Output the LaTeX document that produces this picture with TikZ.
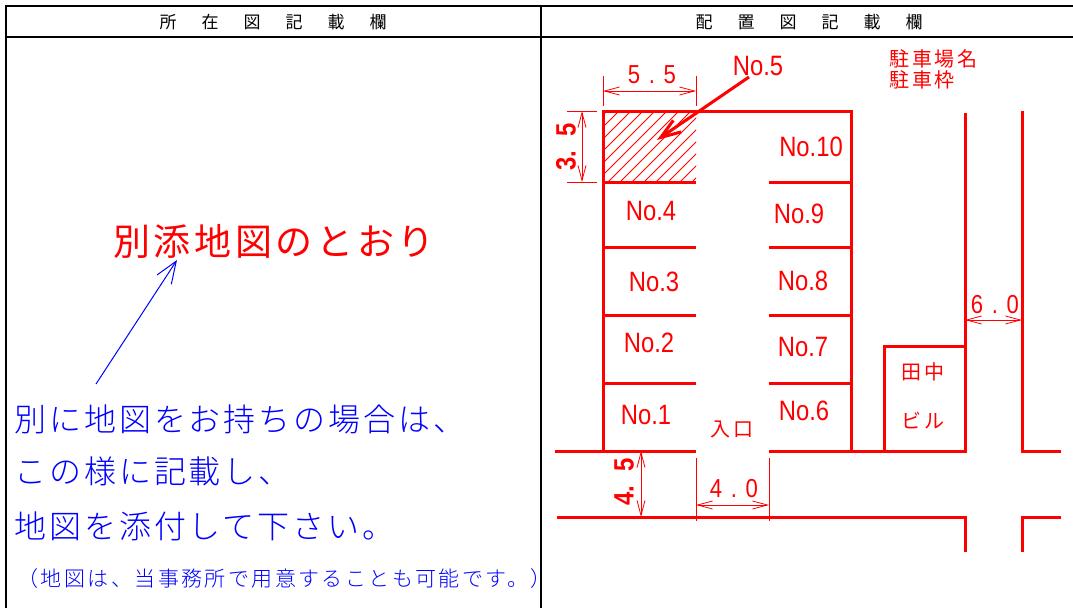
\documentclass[tikz,border=0pt]{standalone}
\usepackage{fontspec}
\usepackage{tikz}
\usetikzlibrary{arrows.meta}
\newfontfamily\cjk{Noto Sans CJK JP}
\newfontfamily\cjkplan[LetterSpace=13]{Noto Sans CJK JP}
\newfontfamily\cjkwide[LetterSpace=10]{Noto Sans CJK JP}
\newfontfamily\cjkblue[LetterSpace=9]{Noto Sans CJK JP Light}
\newfontfamily\cjksmall[LetterSpace=11.5]{Noto Sans CJK JP Light}
\newfontfamily\narrowsans[FakeStretch=0.85]{Liberation Sans}
\tikzset{
  frame/.style={draw=black,line width=2pt},
  wall/.style={draw=red,line width=3pt},
  dimline/.style={draw=red,line width=0.8pt},
  dimarrow/.style={dimline,{Straight Barb[length=15pt,width=8pt]}-{Straight Barb[length=15pt,width=8pt]}},
  head/.style={font=\cjk\fontsize{17}{17}\selectfont},
  lot/.style={text=red,font=\narrowsans\fontsize{28}{28}\selectfont},
  dimtext/.style={text=red,font=\narrowsans\fontsize{26}{26}\selectfont},
  dimside/.style={text=red,rotate=90,font=\narrowsans\bfseries\fontsize{28}{28}\selectfont},
  planmark/.style={text=red,font=\cjkplan\fontsize{20}{20}\selectfont},
  bluetext/.style={text=blue,anchor=west,font=\cjkblue\fontsize{32}{32}\selectfont}
}
\begin{document}
\begin{tikzpicture}[x=1pt,y=-1pt]
\useasboundingbox (0,0) rectangle (1073,608);
% frame
\draw [frame] (6,608) -- (6,6) -- (1073,6);
\draw [frame] (6,37) -- (1073,37);
\draw [frame] (541,6) -- (541,608);
\foreach \ch/\px in {所/168,在/210,図/252,記/294,載/336,欄/378}
  \node [head] (l\px) at (\px,22) {\ch};
\foreach \ch/\px in {配/704,置/746,図/788,記/830,載/872,欄/914}
  \node [head] (r\px) at (\px,22) {\ch};
% left column
\node [text=red,font=\cjkwide\fontsize{37}{37}\selectfont] (note) at (274,241) {別添地図のとおり};
\coordinate (notefoot) at (96,384);
\coordinate (notetip) at (177,260);
\draw [blue,line width=1pt,-{Straight Barb[length=22pt,width=17pt]}] (notefoot) -- (notetip);
\node [bluetext] (blue1) at (11,419) {別に地図をお持ちの場合は、};
\node [bluetext] (blue2) at (11,471) {この様に記載し、};
\node [bluetext] (blue3) at (11,526) {地図を添付して下さい。};
\node [text=blue,anchor=west,font=\cjksmall\fontsize{21}{21}\selectfont] (blue4) at (14,579) {（地図は、当事務所で用意することも可能です。）};
% hatching
\begin{scope}
\clip (603,111) rectangle (696,182);
\foreach \hx in {-96,-84,...,96}
  \draw [dimline] (603+\hx-20,195) -- (603+\hx+80,95);
\end{scope}
% parking lot
\draw [wall] (603,451) -- (603,111) -- (851,111) -- (851,451);
\foreach \py in {182,247,315,383} {
  \draw [wall] (603,\py) -- (696,\py);
  \draw [wall] (769,\py) -- (851,\py);
}
% roads and building
\draw [wall] (555,451) -- (696,451);
\draw [wall] (769,451) -- (965,451) -- (965,113);
\draw [wall] (1022,111) -- (1022,451) -- (1061,451);
\draw [wall] (884,451) -- (884,346) -- (965,346);
\draw [wall] (557,517) -- (965,517) -- (965,552);
\draw [wall] (1022,552) -- (1022,517) -- (1061,517);
% dimensions
\draw [dimline] (603,76) -- (603,106);
\draw [dimline] (696,76) -- (696,106);
\draw [dimarrow] (603,91) -- (696,91);
\node [dimtext] (d55) at (652,75) {5\,\,.\,\,5};
\draw [dimline] (567,111) -- (597,111);
\draw [dimline] (567,182) -- (597,182);
\draw [dimarrow] (582,111) -- (582,182);
\node [dimside] (d35) at (566,147) {3.\,\,\,5};
\draw [dimarrow] (641,451) -- (641,517);
\node [dimside] (d45) at (624,482) {4.\,\,\,5};
\draw [dimline] (696,458) -- (696,521);
\draw [dimline] (769,458) -- (769,521);
\draw [dimarrow] (696,505) -- (769,505);
\node [dimtext] (d40) at (734,489) {4\,\,.\,\,0};
\draw [dimarrow] (965,320) -- (1022,320);
\node [dimtext] (d60) at (995,305) {6\,\,.\,\,0};
% lot labels
\node [lot] (n5) at (758,66) {No.5};
\node [lot] (n10) at (811,147) {No.10};
\node [lot] (n9) at (799,214) {No.9};
\node [lot] (n8) at (803,281) {No.8};
\node [lot] (n7) at (803,347) {No.7};
\node [lot] (n6) at (804,411) {No.6};
\node [lot] (n4) at (651,211) {No.4};
\node [lot] (n3) at (654,282) {No.3};
\node [lot] (n2) at (649,343) {No.2};
\node [lot] (n1) at (646,415) {No.1};
\coordinate (n5foot) at (749,77);
\coordinate (n5tip) at (657,140);
\draw [red,line width=3pt,-{Straight Barb[length=20pt,width=14pt]}] (n5foot) -- (n5tip);
\node [planmark,anchor=west] (m1) at (886,59) {駐車場名};
\node [planmark,anchor=west] (m2) at (886,80) {駐車枠};
\node [planmark] (gate) at (732,429) {入口};
\node [planmark] (bld1) at (923,372) {田中};
\node [planmark] (bld2) at (923,420) {ビル};
\end{tikzpicture}
\end{document}
